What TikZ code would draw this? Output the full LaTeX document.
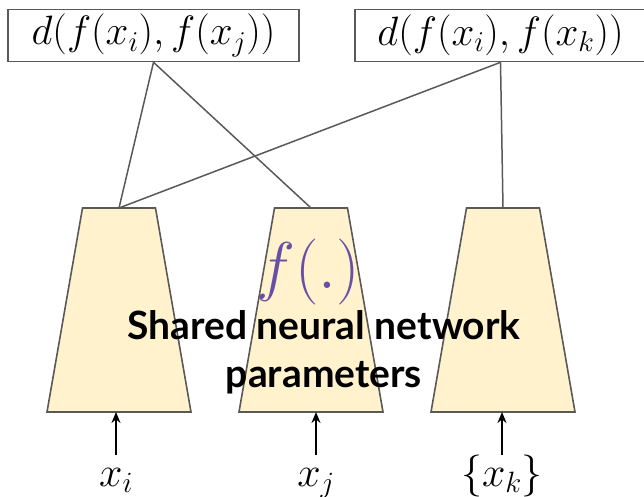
\RequirePackage{fix-cm}
\documentclass[tikz,border=0pt]{standalone}
\usepackage{fontspec}
\usetikzlibrary{arrows.meta}
\newfontfamily\labelfont{Lato}
\definecolor{netfill}{HTML}{FFF2CC}
\definecolor{edgegray}{HTML}{595959}
\definecolor{funcpurple}{HTML}{674EA7}
\begin{document}
\begin{tikzpicture}[x=1pt,y=-1pt,
  distbox/.style={draw=edgegray,line width=1.6pt,fill=white,minimum width=291pt,minimum height=52pt,inner sep=0pt,font=\fontsize{41}{46}\selectfont},
  netshape/.style={draw=edgegray,line width=1.6pt,fill=netfill,line join=miter},
  link/.style={draw=edgegray,line width=1.5pt},
  inarrow/.style={draw=black,line width=1.8pt,-{Stealth[length=11pt,width=9pt]}},
  inlabel/.style={inner sep=0pt,anchor=base,font=\fontsize{42}{48}\selectfont}]
\useasboundingbox (0,0) rectangle (644,497);

% the three copies of the network, each a trapezoid with a top and bottom port
\foreach \name/\cx in {n1/119,n2/311,n3/503} {
  \draw[netshape] (\cx-36.5,208) -- (\cx+36.5,208) -- (\cx+72,412) -- (\cx-72,412) -- cycle;
  \coordinate (\name top) at (\cx,208);
  \coordinate (\name bot) at (\cx,412);
}

% distance boxes
\node[distbox] (dij) at (153.5,35.5) {$d(f(x_i),f(x_j))$};
\node[distbox] (dik) at (500.5,35.5) {$d(f(x_i),f(x_k))$};

% connections from network outputs to distances
\draw[link] (dij.south) -- (n1top);
\draw[link] (dij.south) -- (n2top);
\draw[link] (dik.south) -- (n1top);
\draw[link] (dik.south) -- (n3top);

% inputs
\coordinate (arrowbase) at (0,455);
\node[inlabel] (xi) at (116,486) {$x_i$};
\node[inlabel] (xj) at (316,486) {$x_j$};
\node[inlabel] (xk) at (502,486) {$\{x_k\}$};
\draw[inarrow] (xi.north |- arrowbase) -- (xi.north |- n1bot);
\draw[inarrow] (xj.north |- arrowbase) -- (xj.north |- n2bot);
\draw[inarrow] (xk.north |- arrowbase) -- (xk.north |- n3bot);

% shared function label
\node[inner sep=0pt,anchor=base,text=funcpurple,font=\fontsize{66}{70}\selectfont] (func) at (308,288) {$f(.)$};
\node[inner sep=0pt,anchor=base,align=center,font=\labelfont\bfseries\fontsize{39}{48}\selectfont] (shared) at (324,387)
  {Shared neural network\\parameters};
\end{tikzpicture}
\end{document}
